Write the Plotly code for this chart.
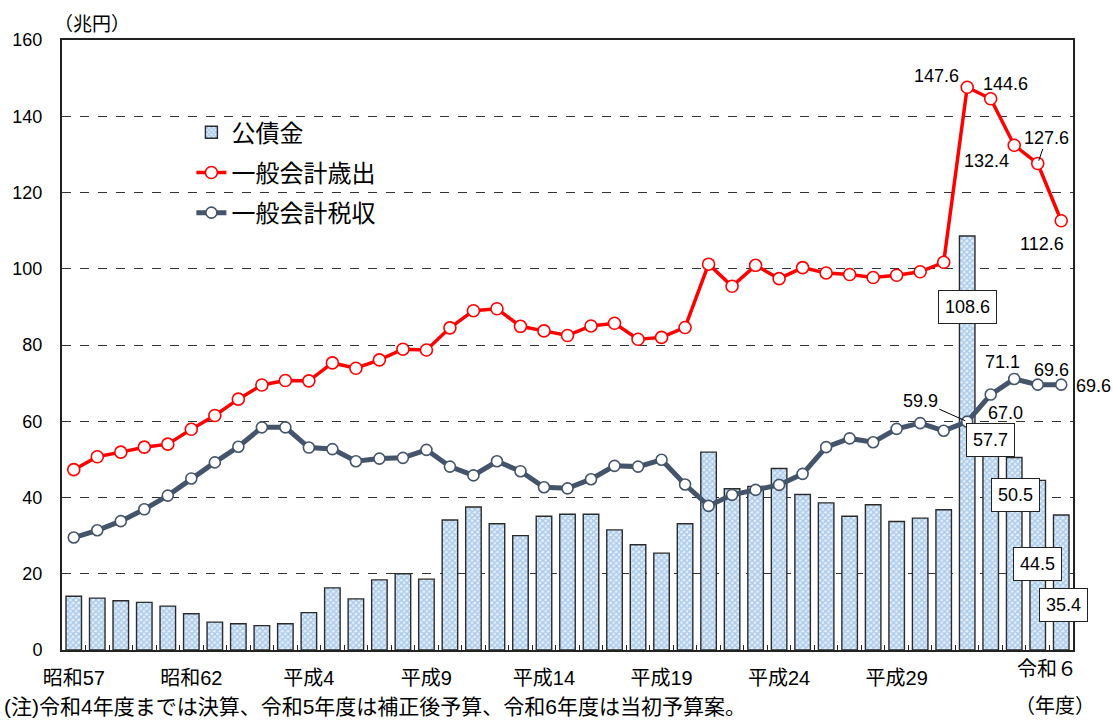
import plotly.graph_objects as go

# 年度（昭和57年度〜令和6年度）
years = [
    "昭和57", "昭和58", "昭和59", "昭和60", "昭和61", "昭和62", "昭和63",
    "平成元", "平成2", "平成3", "平成4", "平成5", "平成6", "平成7", "平成8",
    "平成9", "平成10", "平成11", "平成12", "平成13", "平成14", "平成15",
    "平成16", "平成17", "平成18", "平成19", "平成20", "平成21", "平成22",
    "平成23", "平成24", "平成25", "平成26", "平成27", "平成28", "平成29",
    "平成30", "令和元", "令和2", "令和3", "令和4", "令和5", "令和6",
]

# 一般会計歳出（兆円）
expenditure = [
    47.3, 50.7, 51.9, 53.2, 54.0, 57.9, 61.5, 65.8, 69.5, 70.7, 70.6,
    75.3, 73.9, 76.1, 78.9, 78.7, 84.5, 89.0, 89.5, 84.9, 83.7, 82.5,
    85.0, 85.7, 81.5, 82.0, 84.6, 101.2, 95.4, 100.9, 97.4, 100.3, 98.9,
    98.5, 97.7, 98.3, 99.2, 101.7, 147.6, 144.6, 132.4, 127.6, 112.6,
]

# 一般会計税収（兆円）
tax_revenue = [
    29.5, 31.4, 33.8, 36.9, 40.5, 45.0, 49.2, 53.3, 58.4, 58.4, 53.1,
    52.7, 49.5, 50.2, 50.4, 52.5, 48.1, 45.8, 49.5, 46.9, 42.7, 42.4,
    44.8, 48.3, 48.1, 49.9, 43.4, 37.8, 40.7, 42.0, 43.3, 46.2, 53.2,
    55.5, 54.5, 58.0, 59.5, 57.5, 59.9, 67.0, 71.1, 69.6, 69.6,
]

# 公債金（兆円）
bond_issues = [
    14.1, 13.6, 12.9, 12.5, 11.5, 9.5, 7.3, 6.9, 6.4, 6.9, 9.8,
    16.3, 13.4, 18.4, 20.0, 18.6, 34.1, 37.5, 33.1, 30.0, 35.1, 35.6,
    35.6, 31.5, 27.6, 25.4, 33.1, 51.9, 42.3, 42.9, 47.6, 40.8, 38.6,
    35.1, 38.1, 33.7, 34.6, 36.8, 108.6, 57.7, 50.5, 44.5, 35.4,
]

# 横軸に表示する年度
labeled_years = ["昭和57", "昭和62", "平成4", "平成9", "平成14", "平成19", "平成24", "平成29"]
last_year_label = "令和６"

FONT = "Liberation Sans, Arial, Noto Sans CJK JP, sans-serif"
RED = "#ff0000"
SLATE = "#44546a"

fig = go.Figure()

fig.add_bar(
    x=years, y=bond_issues, name="公債金", width=0.66, legendgroup="a",
    marker=dict(
        color="#e6f0fb",
        line=dict(color="#2b2b2b", width=1.4),
        pattern=dict(shape="x", fgcolor="#6aa2dc", size=4, solidity=0.6),
    ),
)
fig.add_scatter(
    x=years, y=expenditure, name="一般会計歳出", mode="lines+markers", legendgroup="b",
    line=dict(color=RED, width=3.5),
    marker=dict(size=12, color="white", line=dict(color=RED, width=1.6)),
)
fig.add_scatter(
    x=years, y=tax_revenue, name="一般会計税収", mode="lines+markers", legendgroup="c",
    line=dict(color=SLATE, width=5),
    marker=dict(size=11, color="white", line=dict(color=SLATE, width=1.6)),
)


def value_label(series, year, dx, dy, boxed=False, arrow=None):
    v = series[years.index(year)]
    ann = dict(
        x=year, y=v, xref="x", yref="y", text=f"{v:.1f}",
        font=dict(family=FONT, size=18, color="black"),
        showarrow=False, xshift=dx, yshift=dy,
    )
    if boxed:
        ann.update(bgcolor="white", bordercolor="#222", borderwidth=1, borderpad=6)
    if arrow is not None:
        ax, ay, stand = arrow
        ann.update(showarrow=True, arrowhead=0, arrowwidth=1, arrowcolor="black",
                   ax=ax, ay=ay, standoff=stand, xshift=0, yshift=0)
    return ann


annotations = [
    # 歳出
    value_label(expenditure, "令和2", -31, 11),
    value_label(expenditure, "令和3", 15, 15),
    value_label(expenditure, "令和4", -28, -16),
    value_label(expenditure, "令和5", 0, 0, arrow=(9, -26, 3)),
    value_label(expenditure, "令和6", -19, -23),
    # 税収
    value_label(tax_revenue, "令和2", 0, 0, arrow=(-47, -21, 2)),
    value_label(tax_revenue, "令和3", 15, -18),
    value_label(tax_revenue, "令和4", -12, 17),
    value_label(tax_revenue, "令和5", 14, 15),
    value_label(tax_revenue, "令和6", 32, -1),
    # 公債金
    value_label(bond_issues, "令和2", 0, -71, boxed=True),
    value_label(bond_issues, "令和3", 0, -10, boxed=True),
    value_label(bond_issues, "令和4", 1, -38, boxed=True),
    value_label(bond_issues, "令和5", 0, -84, boxed=True),
    value_label(bond_issues, "令和6", 2, -90, boxed=True),
    # 軸まわりの文字
    dict(x="令和6", xref="x", y=0, yref="paper", yanchor="top", text=last_year_label,
         showarrow=False, xshift=-14, yshift=-6,
         font=dict(family=FONT, size=20, color="black")),
    dict(x=0, xref="paper", y=1, yref="paper", xanchor="left", yanchor="bottom",
         text="（兆円）", showarrow=False, xshift=-10, yshift=3,
         font=dict(family=FONT, size=19, color="black")),
    dict(x=0, xref="paper", y=0, yref="paper", xanchor="left", yanchor="top",
         text="(注)令和4年度までは決算、令和5年度は補正後予算、令和6年度は当初予算案。",
         showarrow=False, xshift=-60, yshift=-43,
         font=dict(family=FONT, size=21, color="black")),
    dict(x=1, xref="paper", y=0, yref="paper", xanchor="right", yanchor="top",
         text="（年度）", showarrow=False, xshift=24, yshift=-43,
         font=dict(family=FONT, size=20, color="black")),
]

ticktext = [y if y in labeled_years else "" for y in years]

fig.update_layout(
    width=1113, height=720,
    margin=dict(l=57, r=40, t=40, b=70),
    paper_bgcolor="white", plot_bgcolor="white",
    font=dict(family=FONT, size=18, color="black"),
    showlegend=True,
    legend=dict(
        x=0.128, y=0.885, xanchor="left", yanchor="top",
        bgcolor="rgba(0,0,0,0)", font=dict(family=FONT, size=24, color="black"),
        traceorder="grouped", tracegroupgap=6,
    ),
    annotations=annotations,
    xaxis=dict(
        type="category", categoryorder="array", categoryarray=years,
        range=[-0.5, len(years) - 0.5],
        tickmode="array", tickvals=years, ticktext=ticktext, tickangle=0,
        ticks="inside", tickson="boundaries", ticklen=5, tickwidth=1.3, tickcolor="#222",
        ticklabelstandoff=9,
        showline=True, linecolor="#222", linewidth=2, mirror=True,
        showgrid=False, zeroline=False,
        tickfont=dict(family=FONT, size=20, color="black"),
    ),
    yaxis=dict(
        range=[0, 160], dtick=20, tick0=0,
        showgrid=True, gridcolor="#333", gridwidth=1, griddash="dash",
        showline=True, linecolor="#222", linewidth=2, mirror=True,
        zeroline=False, ticks="", ticklabelstandoff=14,
        tickfont=dict(family=FONT, size=18, color="black"),
    ),
)

fig.write_html("out.html", config={"displayModeBar": False})
